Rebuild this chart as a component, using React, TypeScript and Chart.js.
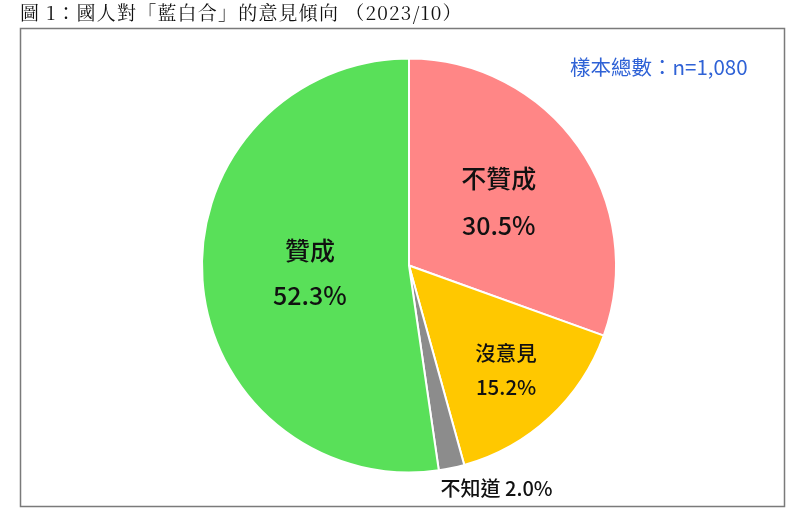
import React, { useEffect, useRef } from 'react';
import { Chart, registerables } from 'chart.js';

Chart.register(...registerables);

const categories = ['不贊成', '沒意見', '不知道', '贊成'];
const percents = [30.5, 15.2, 2.0, 52.3];
const sliceColors = ['#FF8686', '#FFC800', '#8C8C8C', '#59E059'];
const titleText = '圖 1：國人對「藍白合」的意見傾向 （2023/10）';
const sampleText = '樣本總數：n=1,080';

// where each label sits: fraction of radius along the slice's mid-angle
const labelStyles = [
  { frac: 0.53, size: 25, gap: 23.5, inside: true },
  { frac: 0.69, size: 20.5, gap: 17, inside: true },
  { frac: 1.0, size: 20, gap: 0, inside: false },
  { frac: 0.48, size: 25, gap: 22.5, inside: true },
];

const sansFont = "'Noto Sans CJK TC', 'Noto Sans', sans-serif";

const decorPlugin = {
  id: 'decor',
  beforeDraw(chart: any) {
    const ctx = chart.ctx;
    ctx.save();
    ctx.fillStyle = '#fff';
    ctx.fillRect(0, 0, chart.width, chart.height);
    ctx.strokeStyle = '#7a7a7a';
    ctx.lineWidth = 1.5;
    ctx.strokeRect(20.5, 28.5, 764, 478);
    ctx.fillStyle = '#111';
    ctx.font = "19px 'Noto Serif CJK TC', 'DejaVu Serif', serif";
    ctx.textBaseline = 'middle';
    ctx.textAlign = 'left';
    ctx.letterSpacing = '1.2px';
    ctx.fillText(titleText, 20, 13);
    ctx.letterSpacing = '0px';
    ctx.fillStyle = '#2F62D6';
    ctx.font = `20.5px ${sansFont}`;
    ctx.fillText(sampleText, 570, 67);
    ctx.restore();
  },
  afterDatasetsDraw(chart: any) {
    const ctx = chart.ctx;
    const arcs = chart.getDatasetMeta(0).data;
    ctx.save();
    ctx.fillStyle = '#111';
    arcs.forEach((arc: any, i: number) => {
      const st = labelStyles[i];
      const mid = (arc.startAngle + arc.endAngle) / 2;
      const r = arc.outerRadius * st.frac;
      const px = arc.x + Math.cos(mid) * r;
      const py = arc.y + Math.sin(mid) * r;
      const pct = percents[i].toFixed(1) + '%';
      ctx.font = `500 ${st.size}px ${sansFont}`;
      ctx.textBaseline = 'middle';
      if (st.inside) {
        ctx.textAlign = 'center';
        ctx.fillText(categories[i], px, py - st.gap);
        ctx.fillText(pct, px, py + st.gap);
      } else {
        ctx.textAlign = 'left';
        ctx.fillText(categories[i] + ' ' + pct, px - 11, py + 20);
      }
    });
    ctx.restore();
  },
};

const App: React.FC = () => {
  const canvasRef = useRef<HTMLCanvasElement | null>(null);
  const chartRef = useRef<Chart | null>(null);

  useEffect(() => {
    if (!canvasRef.current) return;
    if (chartRef.current) chartRef.current.destroy();
    chartRef.current = new Chart(canvasRef.current, {
      type: 'pie',
      data: {
        labels: categories,
        datasets: [
          {
            data: percents,
            backgroundColor: sliceColors,
            borderColor: '#ffffff',
            borderWidth: 2,
          },
        ],
      },
      options: {
        animation: false,
        responsive: true,
        maintainAspectRatio: false,
        layout: { padding: { left: 201, right: 183, top: 57, bottom: 47 } },
        plugins: {
          legend: { display: false },
          tooltip: { enabled: false },
          title: { display: false },
        },
      },
      plugins: [decorPlugin],
    });
    return () => {
      if (chartRef.current) {
        chartRef.current.destroy();
        chartRef.current = null;
      }
    };
  }, []);

  return (
    <div style={{ position: 'absolute', left: 0, top: 0, width: 800, height: 521, background: '#fff' }}>
      <canvas ref={canvasRef} />
    </div>
  );
};

export default App;
